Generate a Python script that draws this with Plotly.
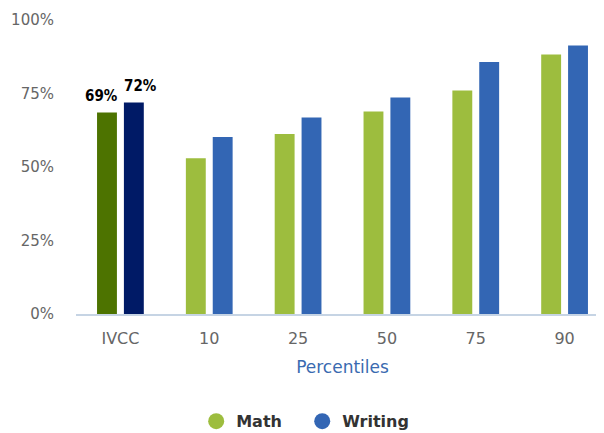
import plotly.graph_objects as go

categories = ["IVCC", "10", "25", "50", "75", "90"]
math_values = [68.5, 53.0, 61.2, 68.9, 76.0, 88.3]
writing_values = [71.9, 60.2, 66.8, 73.6, 85.7, 91.3]
math_labels = ["69%", "", "", "", "", ""]
writing_labels = ["72%", "", "", "", "", ""]
y_ticks = [0, 25, 50, 75, 100]
y_tick_labels = ["0%", "25%", "50%", "75%", "100%"]

MATH = "#9dbd3e"
WRITING = "#3366b4"
MATH_DARK = "#4d7300"
WRITING_DARK = "#001a66"
FONT = "DejaVu Sans"
LABEL_FONT = "DejaVu Sans Condensed, Liberation Sans Narrow, DejaVu Sans"

math_colors = [MATH_DARK] + [MATH] * (len(categories) - 1)
writing_colors = [WRITING_DARK] + [WRITING] * (len(categories) - 1)

fig = go.Figure()
fig.add_trace(go.Bar(
    x=categories, y=math_values, name="Math",
    marker=dict(color=math_colors, line=dict(width=0)),
    showlegend=False, hoverinfo="skip",
))
fig.add_trace(go.Bar(
    x=categories, y=writing_values, name="Writing",
    marker=dict(color=writing_colors, line=dict(width=0)),
    showlegend=False, hoverinfo="skip",
))
# legend entries with circle symbols
fig.add_trace(go.Scatter(x=[None], y=[None], mode="markers", name="<b>Math</b>   ",
                         marker=dict(symbol="circle", size=18, color=MATH)))
fig.add_trace(go.Scatter(x=[None], y=[None], mode="markers", name="<b>Writing</b>",
                         marker=dict(symbol="circle", size=18, color=WRITING)))

# value labels (only IVCC bars carry labels)
for cat, val, lab in zip(categories, math_values, math_labels):
    if lab:
        fig.add_annotation(x=cat, y=val, text="<b>%s</b>" % lab, showarrow=False,
                           xanchor="center", yanchor="bottom", xshift=-19, yshift=6,
                           font=dict(family=LABEL_FONT, size=15, color="#000000"))
for cat, val, lab in zip(categories, writing_values, writing_labels):
    if lab:
        fig.add_annotation(x=cat, y=val, text="<b>%s</b>" % lab, showarrow=False,
                           xanchor="center", yanchor="bottom", xshift=20, yshift=6,
                           font=dict(family=LABEL_FONT, size=15, color="#000000"))

fig.update_layout(
    width=604, height=433,
    margin=dict(l=66, r=3, t=10, b=125),
    paper_bgcolor="white", plot_bgcolor="white",
    barmode="group", bargap=0.395, bargroupgap=0.26,
    font=dict(family=FONT, size=15, color="#666666"),
    showlegend=True,
    legend=dict(orientation="h", x=0.43, xanchor="center", y=-0.365, yanchor="middle",
                font=dict(family=FONT, size=16, color="#333333"),
                itemwidth=30, traceorder="normal"),
)
fig.update_xaxes(
    type="category", range=[-0.5, 5.5],
    showline=True, linecolor="#c6d4e4", linewidth=2,
    showgrid=False, ticks="", zeroline=False,
    tickfont=dict(family=FONT, size=16, color="#666666"),
    ticklabelstandoff=9,
    title=dict(text="Percentiles", font=dict(family=FONT, size=17, color="#3a6ab0"), standoff=14),
)
fig.update_yaxes(
    range=[0, 100], tickvals=y_ticks, ticktext=y_tick_labels,
    showgrid=False, zeroline=False, showline=False, ticks="",
    tickfont=dict(family=FONT, size=15, color="#666666"),
    ticklabelstandoff=21,
)

fig.write_html("out.html")
